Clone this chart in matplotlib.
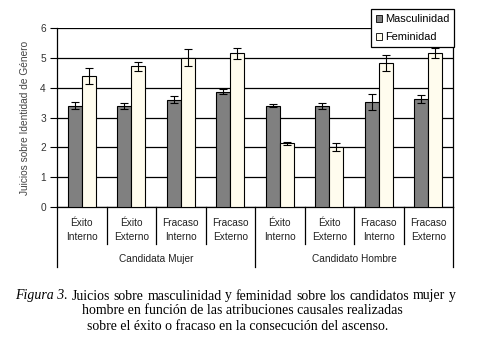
import numpy as np
import matplotlib
matplotlib.use("Agg")
import matplotlib.pyplot as plt

# data
attribs = ["Éxito\nInterno", "Éxito\nExterno", "Fracaso\nInterno", "Fracaso\nExterno"] * 2
candidates = ["Candidata Mujer", "Candidato Hombre"]
masc = [3.40, 3.40, 3.60, 3.87, 3.40, 3.40, 3.52, 3.62]
masc_err = [0.13, 0.10, 0.12, 0.08, 0.05, 0.10, 0.26, 0.15]
fem = [4.40, 4.71, 5.00, 5.15, 2.13, 2.01, 4.83, 5.16]
fem_err = [0.27, 0.16, 0.28, 0.18, 0.06, 0.13, 0.27, 0.17]

plt.rcParams['font.family'] = ['Liberation Sans', 'DejaVu Sans']

W, H = 482, 347
fig = plt.figure(figsize=(W/100, H/100), dpi=100)
ax = fig.add_axes([57/W, 1-207/H, 396/W, 179/H])

n = len(masc)
x = np.arange(n) + 0.5
w = 0.283
ekw = dict(ecolor="black", elinewidth=0.8, capsize=3, capthick=0.8)
ax.bar(x - w/2, masc, w, yerr=masc_err, color="#808080", edgecolor="black",
       linewidth=0.8, label="Masculinidad", error_kw=ekw, zorder=3)
ax.bar(x + w/2, fem, w, yerr=fem_err, color="#FFFCEE", edgecolor="black",
       linewidth=0.8, label="Feminidad", error_kw=ekw, zorder=3)

ax.set_xlim(0, n)
ax.set_ylim(0, 6)
ax.set_yticks(range(7))
ax.yaxis.grid(True, color="black", linewidth=0.9, zorder=0)
ax.set_axisbelow(True)
ax.tick_params(axis="y", labelsize=7.3, length=5, width=0.8, labelcolor="#333333",
               color="black", pad=3)
for s in ax.spines.values():
    s.set_linewidth(0.9)
ax.spines["top"].set_visible(False)

ax.set_xticks(x)
ax.set_xticklabels(attribs, fontsize=7.3, color="#222222", linespacing=1.45)
ax.tick_params(axis="x", length=0, pad=8)

tr = ax.get_xaxis_transform()
for b in range(1, n):
    if b % 4 == 0:
        continue
    ax.plot([b, b], [0, -0.207], transform=tr, color="black", lw=0.9, clip_on=False)
for b in [0, 4, 8]:
    ax.plot([b, b], [0, -0.333], transform=tr, color="black", lw=0.9, clip_on=False)
for i, c in enumerate(candidates):
    ax.text(2 + 4*i, -0.29, c, transform=tr, ha="center", va="center",
            fontsize=7.3, color="#222222")

ax.set_ylabel("Juicios sobre Identidad de Género", fontsize=7.3, color="#444444", labelpad=7)

leg = ax.legend(loc="upper right", bbox_to_anchor=(1.0025, 1.106), fontsize=7.9,
                frameon=True, fancybox=False, edgecolor="black", framealpha=1,
                handlelength=0.6, handleheight=0.6, handletextpad=0.2,
                borderpad=0.45, labelspacing=0.75, borderaxespad=0)
leg.get_frame().set_linewidth(0.9)
for h in leg.legend_handles:
    h.set_linewidth(0.6)

# caption: first line justified between two edges, the rest centred
serif = ['Liberation Serif', 'DejaVu Serif']
cap_fs = 10.0
line1 = [("Figura 3.", "italic")] + [(t, "normal") for t in
         "Juicios sobre masculinidad y feminidad sobre los candidatos mujer y".split()]
fig.canvas.draw()
r = fig.canvas.get_renderer()
objs = [fig.text(0, 1 - 299.5/H, t, family=serif, style=st, fontsize=cap_fs,
                 ha="left", va="baseline") for t, st in line1]
widths = [o.get_window_extent(r).width for o in objs]
x0, x1 = 15, 456
gap = (x1 - x0 - sum(widths)) / (len(objs) - 1)
pos = x0
for o, wd in zip(objs, widths):
    o.set_x(pos / W)
    pos += wd + gap
fig.text(242/W, 1 - 314.5/H, "hombre en función de las atribuciones causales realizadas",
         family=serif, fontsize=cap_fs, ha="center", va="baseline")
fig.text(238/W, 1 - 329.5/H, "sobre el éxito o fracaso en la consecución del ascenso.",
         family=serif, fontsize=cap_fs, ha="center", va="baseline")

fig.savefig("out.png", dpi=100)
